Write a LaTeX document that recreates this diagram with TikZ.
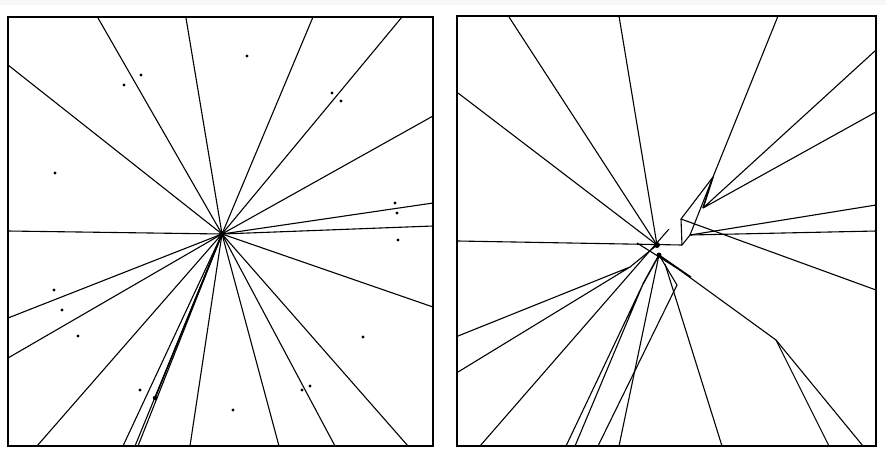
\documentclass[tikz,border=0pt]{standalone}
\usetikzlibrary{positioning}
\tikzset{
  frame/.style={draw, line width=1.2pt},
  ray/.style={draw, line width=1.1pt, line join=round},
  site/.style={circle, fill, inner sep=0pt, minimum size=3.4pt},
  blob/.style={circle, fill, inner sep=0pt, minimum size=5.5pt},
}

\begin{document}
\begin{tikzpicture}[x=1pt, y=-1pt]
  \useasboundingbox (0,0) rectangle (886,456);
  \fill[gray!6] (0,0) rectangle (886,5);

  % left square: all cells meet in one vertex
  \draw[frame] (8,17) rectangle (433,446);
  \node[blob] (lc) at (222,234) {};
  \foreach \x/\y [count=\i] in {98/18, 186/18, 313/17, 402/17, 8/65, 8/231, 8/318, 8/358,
      433/116, 433/203, 433/226, 433/307, 37/446, 123/446, 135/446, 138/446,
      190/446, 279/446, 335/446, 408/446}{
    \coordinate (l\i) at (\x,\y);
    \draw[ray] (lc.center) -- (l\i);
  }
  \node[blob, minimum size=4.5pt] (lk) at (155,398) {};
  \draw[ray, line width=1.5pt] (lc.center) -- (lk.center);
  \foreach \x/\y [count=\i] in {247/56, 124/85, 141/75, 332/93, 341/101, 55/173,
      395/203, 397/213, 398/240, 54/290, 62/310, 78/336, 140/390, 363/337,
      302/390, 310/386, 233/410}
    \node[site] (d\i) at (\x,\y) {};

  % right square: the perturbed diagram
  \draw[frame] (457,16) rectangle (876,446);
  \node[blob, minimum size=6pt] (ra) at (657,245) {};
  \node[blob, minimum size=5pt] (rb) at (659,255) {};
  \coordinate (rk) at (682,245);
  \coordinate (rj) at (681,219);
  \coordinate (rt) at (713,177);
  \coordinate (rn) at (703,208);
  \coordinate (rm) at (690,235);
  \coordinate (rs) at (691,277);
  \coordinate (ru) at (669,229);
  \coordinate (rw) at (648,253);
  \coordinate (rx) at (637,243);
  \coordinate (rl) at (630,267);
  \coordinate (rq) at (643,284);
  \coordinate (rp) at (677,285);
  \coordinate (rz) at (665,264);
  \coordinate (rv) at (776,340);
  \foreach \n/\x/\y in {t1/509/17, t2/619/16, t3/778/16,
      w1/458/93, w2/458/241, w3/458/336, w4/458/372,
      e1/876/50, e2/876/112, e3/876/205, e4/876/231, e5/876/290,
      b1/480/446, b2/566/446, b3/575/446, b4/598/446, b5/619/446,
      b6/722/446, b7/829/446, b8/863/446}
    \coordinate (r\n) at (\x,\y);

  \draw[ray] (rt1) -- (ra.center);
  \draw[ray] (rt2) -- (ra.center);
  \draw[ray] (rw1) -- (ra.center);
  \draw[ray] (rw2) -- (rk) -- (rj) -- (rt);
  \draw[ray] (rt3) -- (rt) -- (rm);
  \draw[ray, line width=1.6pt] (rt) -- (rn);
  \draw[ray] (re1) -- (rn) -- (re2);
  \draw[ray] (rj) -- (re5);
  \draw[ray] (rk) -- (rm) -- (re3);
  \draw[ray] (rm) -- (re4);
  \draw[ray] (ru) -- (rw);
  \draw[ray] (rx) -- (rs) -- (rb.center);
  \draw[ray] (rw3) -- (rl) -- (rw4);
  \draw[ray] (rl) -- (ra.center);
  \draw[ray] (rb1) -- (rw);
  \draw[ray] (rb2) -- (rq) -- (rb3);
  \draw[ray, line width=1.5pt] (rq) -- (rb.center);
  \draw[ray] (rb4) -- (rp) -- (rb.center);
  \draw[ray] (rb5) -- (rb.center);
  \draw[ray] (rb6) -- (rz);
  \draw[ray] (rb.center) -- (rv) -- (rb7);
  \draw[ray] (rv) -- (rb8);
\end{tikzpicture}
\end{document}
